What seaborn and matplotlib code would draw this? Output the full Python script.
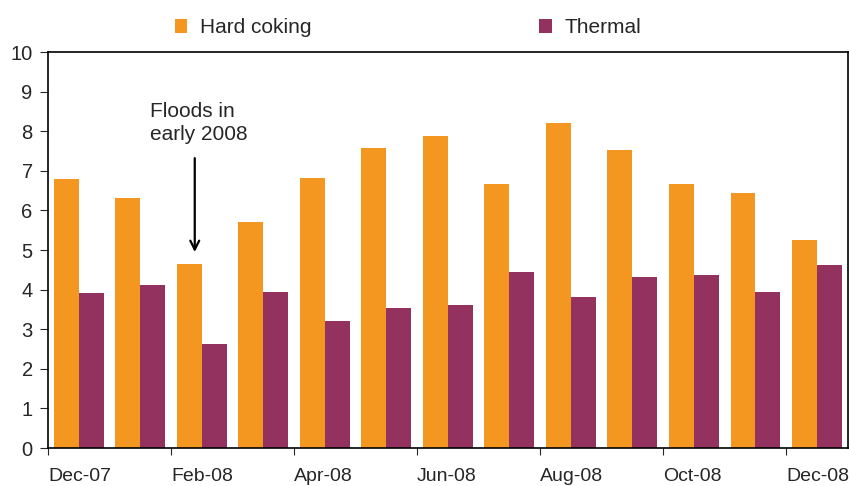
import pandas as pd
import seaborn as sns
import matplotlib.pyplot as plt

months = ["Dec-07", "Jan-08", "Feb-08", "Mar-08", "Apr-08", "May-08", "Jun-08",
          "Jul-08", "Aug-08", "Sep-08", "Oct-08", "Nov-08", "Dec-08"]
hard_coking = [6.8, 6.31, 4.65, 5.71, 6.82, 7.58, 7.88, 6.67, 8.21, 7.53, 6.67, 6.44, 5.25]
thermal = [3.91, 4.12, 2.63, 3.94, 3.21, 3.54, 3.61, 4.45, 3.81, 4.32, 4.37, 3.94, 4.62]
tick_labels = ["Dec-07", "Feb-08", "Apr-08", "Jun-08", "Aug-08", "Oct-08", "Dec-08"]

df = pd.DataFrame({"month": months * 2,
                   "value": hard_coking + thermal,
                   "type": ["Hard coking"] * len(months) + ["Thermal"] * len(months)})

sns.set_style("white")
plt.rcParams["font.family"] = ["Liberation Sans", "DejaVu Sans"]

fig = plt.figure(figsize=(8.49, 4.86), dpi=100)
ax = fig.add_axes([0.0565, 0.078, 0.942, 0.815])

sns.barplot(data=df, x="month", y="value", hue="type", order=months,
            palette={"Hard coking": "#F39720", "Thermal": "#93325F"},
            width=0.81, gap=0, saturation=1, linewidth=0, ax=ax)

ax.set_xlim(-0.5, 12.5)
ax.set_ylim(0, 10)
ax.set_yticks(range(0, 11))
ax.tick_params(axis="y", labelsize=14.5, length=6, direction="out", left=True, pad=5)
ax.set_xticks([i - 0.5 for i in range(0, 13, 2)])
ax.set_xticklabels(tick_labels, ha="left", fontsize=14)
ax.tick_params(axis="x", length=5, direction="out", bottom=True, pad=9)
ax.set_xlabel("")
ax.set_ylabel("")
for s in ax.spines.values():
    s.set_color("black")
    s.set_linewidth(1.2)

ax.legend(loc="lower left", bbox_to_anchor=(0.14, 1.0), ncol=2, frameon=False,
          fontsize=15, handlelength=0.6, handleheight=0.6, columnspacing=10.95,
          handletextpad=0.6, borderaxespad=0.3)

ax.text(1.156, 8.74, "Floods in\nearly 2008", ha="left", va="top", fontsize=15,
        linespacing=1.3)
ax.annotate("", xy=(1.886, 4.95), xytext=(1.886, 7.32),
            arrowprops=dict(arrowstyle="->", color="black", lw=1.6, shrinkA=0,
                            shrinkB=0, mutation_scale=16))

fig.savefig("out.png", dpi=100)
